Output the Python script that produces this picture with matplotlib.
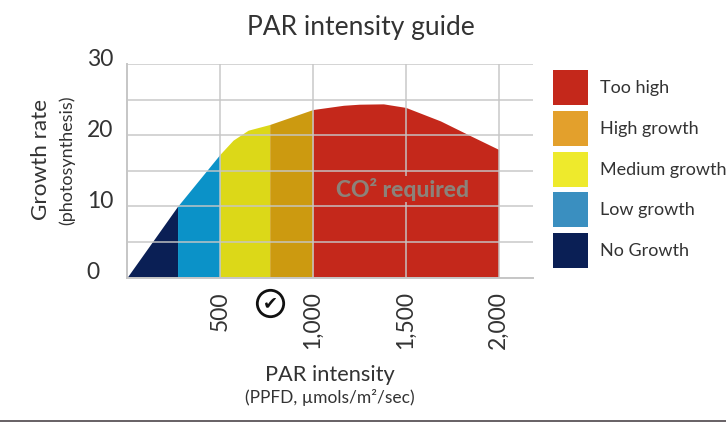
import numpy as np
import matplotlib.pyplot as plt
from matplotlib.patches import Rectangle
from matplotlib.transforms import ScaledTranslation

plt.rcParams['font.family'] = ['Lato', 'DejaVu Sans']

# curve
par = [0, 272, 500, 571, 652, 768, 1000, 1165, 1250, 1380, 1500, 1687, 1850, 2000]
growth = [0, 10, 17.3, 19.3, 20.7, 21.5, 23.6, 24.2, 24.35, 24.4, 23.9, 22, 19.9, 18]

# zone edges along the x axis
zone_edges = [0, 272, 500, 768, 1000, 2000]
zone_colors = ['#0a1f55', '#0b92c8', '#dcd818', '#cc9a10', '#c4281b']

legend_labels = ['Too high', 'High growth', 'Medium growth', 'Low growth', 'No Growth']
legend_colors = ['#c4281b', '#e3a02c', '#eeea2c', '#3a8fc0', '#0a1f55']

x_ticks = [500, 1000, 1500, 2000]
x_labels = ['500', '1,000', '1,500', '2,000']
y_major = [0, 10, 20, 30]
y_minor = [5, 15, 25]

W, H = 726, 422
text_col = '#333333'
grid_col = '#c6c6c6'

fig = plt.figure(figsize=(W / 100, H / 100), dpi=100)
ax = fig.add_axes([127 / W, 1 - 277.5 / H, (533 - 127) / W, (277.5 - 64) / H])

for i in range(len(zone_colors)):
    xs = np.array([zone_edges[i]] + [p for p in par if zone_edges[i] < p < zone_edges[i + 1]] + [zone_edges[i + 1]])
    ys = np.interp(xs, par, growth)
    ax.fill_between(xs, 0, ys, color=zone_colors[i], lw=0, zorder=1)

ax.set_xlim(0, 2185)
ax.set_ylim(0, 30)
ax.set_xticks(x_ticks, x_labels, rotation=90, fontsize=16.5, color=text_col, va='top')
ax.set_yticks(y_major, [str(v) for v in y_major], fontsize=16.5, color=text_col, ha='left')
ax.set_yticks(y_minor, minor=True)
ax.tick_params(axis='both', which='both', length=0)
ax.tick_params(axis='x', pad=10)
ax.tick_params(axis='y', pad=29)
ax.grid(True, which='both', color=grid_col, lw=1.4, alpha=0.75, zorder=2)
ax.set_axisbelow(False)
for s in ['top', 'right']:
    ax.spines[s].set_visible(False)
for s in ['left', 'bottom']:
    ax.spines[s].set_color(grid_col)
    ax.spines[s].set_linewidth(1.4)

# y tick labels sit a little above their grid lines
shift = ScaledTranslation(0, 7 / 100, fig.dpi_scale_trans)
for lab in ax.get_yticklabels():
    lab.set_transform(lab.get_transform() + shift)

ax.text(1485, 12.4, 'CO² required', ha='center', va='center', fontsize=16.5,
        fontweight='black', color='#8c8279', zorder=4,
        bbox=dict(facecolor='#c4281b', edgecolor='none', pad=1))

# check mark between the ticks
ax.plot([770], [-3.6], marker='o', ms=19, mfc='white', mec='#111111', mew=2, clip_on=False, zorder=5)
ax.text(770, -3.6, '✔', family='DejaVu Sans', fontsize=13, ha='center', va='center', color='#111111', zorder=6)


def ftext(px, py, s, **kw):
    fig.text(px / W, 1 - py / H, s, ha='center', va='center', color=text_col, **kw)


ftext(361, 27, 'PAR intensity guide', fontsize=19)
ftext(41, 160, 'Growth rate', fontsize=16.2, rotation=90)
ftext(67, 160, '(photosynthesis)', fontsize=13, rotation=90)
ftext(330, 375, 'PAR intensity', fontsize=15.7)
ftext(330, 398, '(PPFD, µmols/m²/sec)', fontsize=12.5)

# legend drawn by hand, the boxes are taller than a normal legend handle
for i, (lab, col) in enumerate(zip(legend_labels, legend_colors)):
    top = 70 + i * 40.8
    fig.add_artist(Rectangle((553 / W, 1 - (top + 35) / H), 35 / W, 35 / H,
                             transform=fig.transFigure, facecolor=col, edgecolor='none'))
    fig.text(600 / W, 1 - (top + 18) / H, lab, ha='left', va='center', fontsize=13, color=text_col)

# dark sliver along the bottom of the frame
fig.add_artist(Rectangle((0, 0), 1, 2 / H, transform=fig.transFigure, facecolor='#6a6468', edgecolor='none'))

fig.savefig('out.png', dpi=100)
